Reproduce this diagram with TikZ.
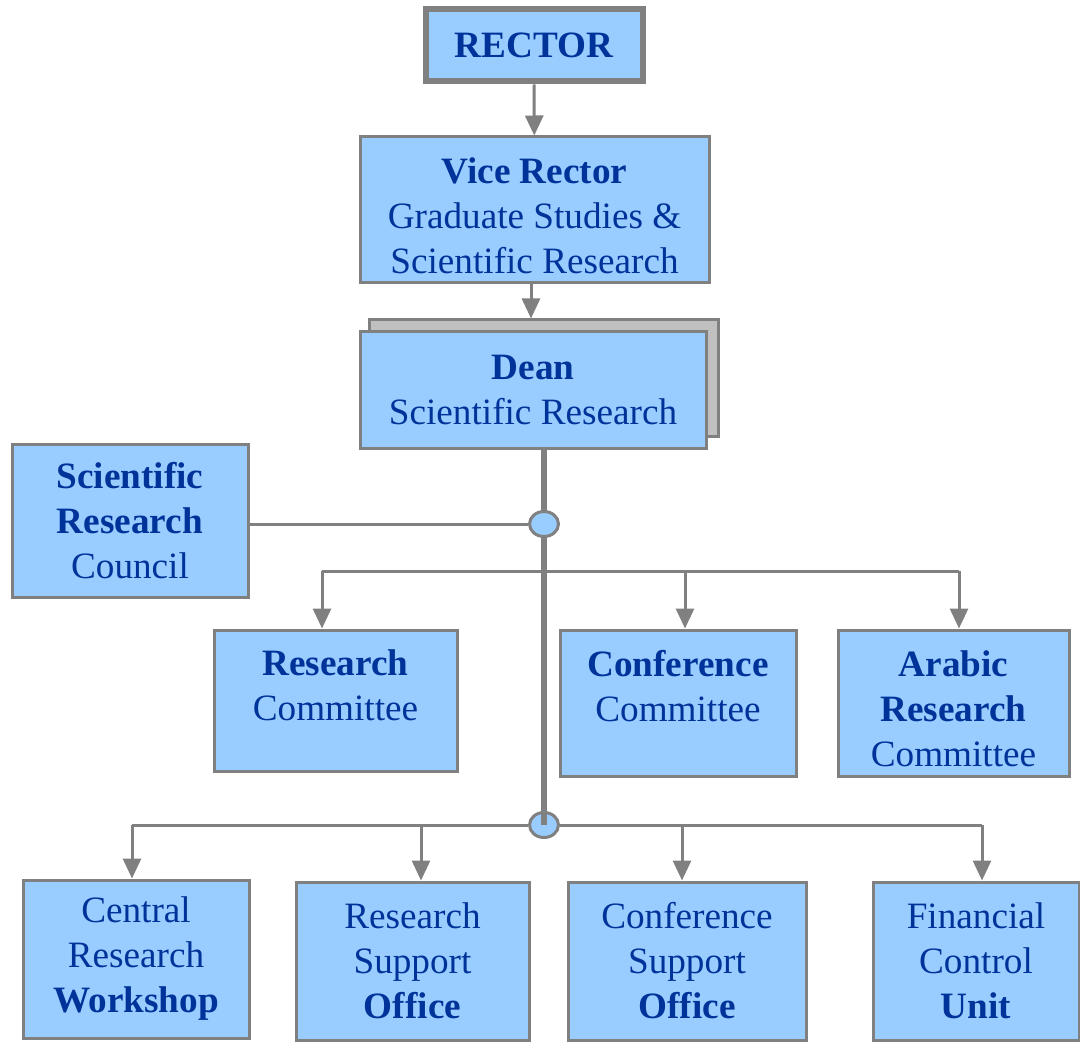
\documentclass[tikz,border=0pt]{standalone}
\usepackage{fontspec}
\setmainfont{Liberation Serif}
\usetikzlibrary{arrows.meta,shapes.geometric}
\definecolor{boxblue}{RGB}{153,204,255}
\definecolor{txtblue}{RGB}{0,51,153}
\definecolor{linegray}{RGB}{128,128,128}
\definecolor{shadegray}{RGB}{192,192,192}
\tikzset{orgb/.style={rectangle, draw=linegray, line width=3pt, fill=boxblue, text=txtblue, align=center, inner sep=0pt, font=\fontsize{37.2}{45}\selectfont}}
\tikzset{conn/.style={draw=linegray, line width=3pt}}
\tikzset{arr/.style={conn, -{Triangle[length=20pt,width=18pt]}}}
\tikzset{junc/.style={ellipse, draw=linegray, line width=3pt, fill=boxblue, minimum width=29pt, minimum height=25pt, inner sep=0pt}}

\begin{document}
\begin{tikzpicture}[x=1pt, y=-1pt]
    \useasboundingbox (0,0) rectangle (1080,1043);
    % top of the chart
    \node[orgb, line width=6pt, minimum width=217pt, minimum height=72pt] (rector) at (534,45.5) {\textbf{RECTOR}};
    \node[orgb, text height=127pt, minimum width=349pt, minimum height=146pt] (vice) at (534.5,210) {\textbf{Vice Rector}\\Graduate Studies \&\\Scientific Research};
    \node[orgb, fill=shadegray, minimum width=349pt, minimum height=116pt] (deansh) at (543.5,378) {};
    \node[orgb, minimum width=346pt, minimum height=116pt] (dean) at (533,390) {\textbf{Dean}\\Scientific Research};
    \draw[arr] (rector) -- (vice);
    \draw[arr] (vice.south -| 531,0) -- (deansh.north -| 531,0);

    % junctions
    \coordinate (p1) at (544,524);
    \coordinate (p2) at (544,825);
    \node[junc] (j2) at (p2) {};
    \draw[conn, line width=6pt] (p1 |- dean.south) -- (p2);
    \node[junc] (j1) at (p1) {};

    % council
    \node[orgb, minimum width=236pt, minimum height=153pt] (council) at (130,520.5) {\textbf{Scientific}\\\textbf{Research}\\Council};
    \draw[conn] (council.east |- j1) -- (j1.west);

    % committees
    \node[orgb, text depth=30pt, minimum width=243pt, minimum height=141pt] (rcom) at (335.5,700.5) {\textbf{Research}\\Committee};
    \node[orgb, text depth=34pt, minimum width=236pt, minimum height=146pt] (ccom) at (678,703) {\textbf{Conference}\\Committee};
    \node[orgb, text height=127pt, minimum width=231pt, minimum height=146pt] (acom) at (953.5,703) {\textbf{Arabic}\\\textbf{Research}\\Committee};
    \coordinate (b1) at (322,571);
    \coordinate (b2) at (685,571);
    \coordinate (b3) at (959,571);
    \draw[conn] (b1) -- (b3);
    \draw[arr] (b1) -- (b1 |- rcom.north);
    \draw[arr] (b2) -- (b2 |- ccom.north);
    \draw[arr] (b3) -- (b3 |- acom.north);

    % offices
    \node[orgb, minimum width=226pt, minimum height=158pt] (work) at (136,959) {Central\\Research\\\textbf{Workshop}};
    \node[orgb, minimum width=233pt, minimum height=158pt] (rso) at (412.5,961) {Research\\Support\\\textbf{Office}};
    \node[orgb, minimum width=238pt, minimum height=158pt] (cso) at (687,961) {Conference\\Support\\\textbf{Office}};
    \node[orgb, minimum width=206pt, minimum height=158pt] (fcu) at (976,961) {Financial\\Control\\\textbf{Unit}};
    \coordinate (c1) at (132,825);
    \coordinate (c2) at (421,825);
    \coordinate (c3) at (682,825);
    \coordinate (c4) at (982,825);
    \draw[conn] (c1) -- (j2.west);
    \draw[conn] (j2.east) -- (c4);
    \draw[arr] (c1) -- (c1 |- work.north);
    \draw[arr] (c2) -- (c2 |- rso.north);
    \draw[arr] (c3) -- (c3 |- cso.north);
    \draw[arr] (c4) -- (c4 |- fcu.north);
\end{tikzpicture}
\end{document}
